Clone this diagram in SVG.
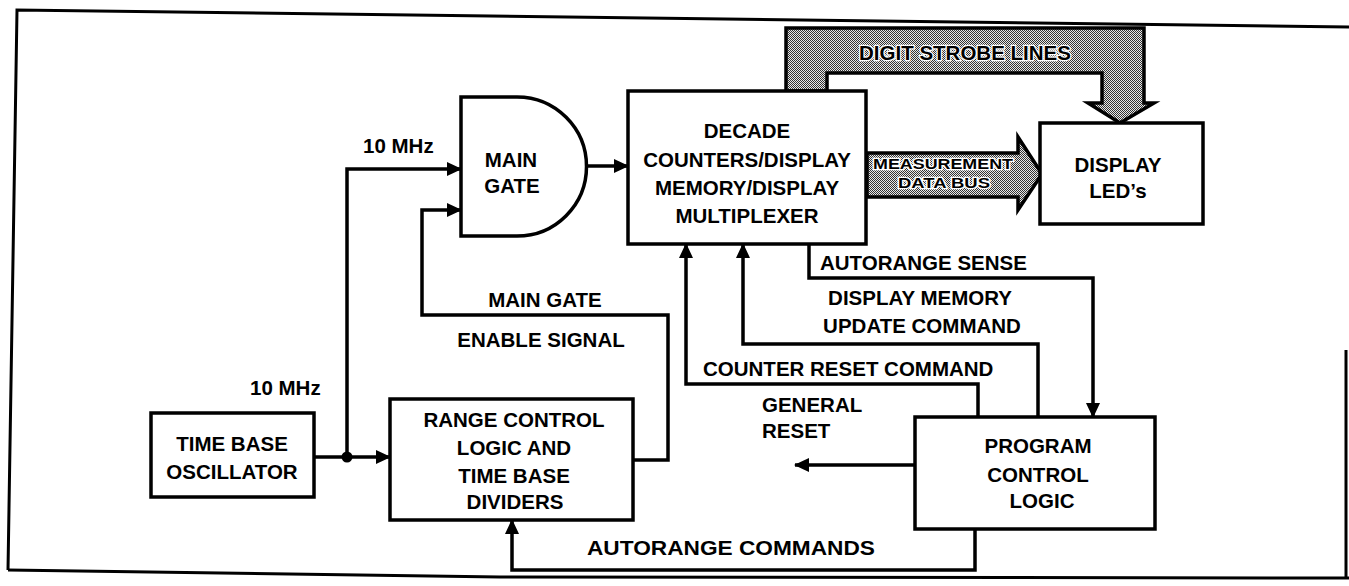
<svg xmlns="http://www.w3.org/2000/svg" width="1349" height="586" viewBox="0 0 1349 586">
<style>
  .box{fill:#fff;stroke:#000;stroke-width:3.5}
  .wire{fill:none;stroke:#000;stroke-width:3.5}
  .t{font-family:"Liberation Sans",Arial,Helvetica,sans-serif;font-weight:bold;font-size:20.5px;fill:#000}
  .m{text-anchor:middle}
  .halo{stroke:#fff;stroke-width:2.5;paint-order:stroke}
  .bus{fill:url(#stip);stroke:#000;stroke-width:3.5;stroke-linejoin:miter}
</style>
<defs>
  <pattern id="stip" width="2" height="2" patternUnits="userSpaceOnUse">
    <rect width="2" height="2" fill="#e8e8e8"/>
    <rect width="1" height="1" fill="#333"/>
    <rect x="1" y="1" width="1" height="1" fill="#333"/>
  </pattern>
  <marker id="ah" markerUnits="userSpaceOnUse" markerWidth="16" markerHeight="14" refX="14" refY="7" orient="auto">
    <path d="M0,0 L15,7 L0,14 z" fill="#000"/>
  </marker>
</defs>
<rect width="1349" height="586" fill="#fff"/>
<g id="frame" fill="none" stroke="#000" stroke-width="3">
  <polyline points="8,570 17,10 1349,27"/>
  <polyline points="8,570 500,577 1349,578"/>
  <line x1="1346" y1="350" x2="1346" y2="578"/>
</g>
<g id="connectors">
  <path class="wire" d="M314,457 L390,457" marker-end="url(#ah)"/>
  <path class="wire" d="M347,457 L347,169 L461,169" marker-end="url(#ah)"/>
  <path class="wire" d="M633,460 L668,460 L668,315 L422,315 L422,210 L461,210" marker-end="url(#ah)"/>
  <path class="wire" d="M586,166 L628,166" marker-end="url(#ah)"/>
  <path class="wire" d="M809,244 L809,278 L1093,278 L1093,417" marker-end="url(#ah)"/>
  <path class="wire" d="M1038,417 L1038,344 L743,344 L743,244" marker-end="url(#ah)"/>
  <path class="wire" d="M978,417 L978,384 L686,384 L686,244" marker-end="url(#ah)"/>
  <path class="wire" d="M915,465 L795,465" marker-end="url(#ah)"/>
  <path class="wire" d="M975,529 L975,570 L512,570 L512,520" marker-end="url(#ah)"/>
  <circle cx="347" cy="457" r="5.5" fill="#000"/>
  <polygon id="digit-strobe" class="bus" points="786,91 786,28 1144,28 1144,103 1154,103 1120,123 1088,103 1102,103 1102,73 827,73 827,91"/>
  <polygon id="data-bus" class="bus" points="867,153 1018,153 1018,137 1042,174 1018,210 1018,197 867,197"/>
  <text class="t m halo" x="965" y="60">DIGIT STROBE LINES</text>
  <text class="t m halo" x="943" y="169" style="font-size:14px" textLength="140" lengthAdjust="spacingAndGlyphs">MEASUREMENT</text>
  <text class="t m halo" x="944" y="188" style="font-size:14px" textLength="92" lengthAdjust="spacingAndGlyphs">DATA BUS</text>
  <text class="t" x="363" y="153">10 MHz</text>
  <text class="t" x="250" y="395">10 MHz</text>
  <text class="t m" x="545" y="307">MAIN GATE</text>
  <text class="t m" x="541" y="347">ENABLE SIGNAL</text>
  <text class="t" x="820" y="270">AUTORANGE SENSE</text>
  <text class="t m" x="920" y="305">DISPLAY MEMORY</text>
  <text class="t m" x="922" y="333">UPDATE COMMAND</text>
  <text class="t" x="703" y="376">COUNTER RESET COMMAND</text>
  <text class="t" x="762" y="412">GENERAL</text>
  <text class="t" x="762" y="438">RESET</text>
  <text class="t" x="587" y="555" textLength="288" lengthAdjust="spacingAndGlyphs">AUTORANGE COMMANDS</text>
</g>
<g id="time-base-oscillator">
  <rect class="box" x="151" y="413" width="163" height="84"/>
  <text class="t m" x="232" y="451">TIME BASE</text>
  <text class="t m" x="232" y="479">OSCILLATOR</text>
</g>
<g id="range-control">
  <rect class="box" x="390" y="399" width="243" height="121"/>
  <text class="t m" x="514" y="427">RANGE CONTROL</text>
  <text class="t m" x="514" y="455">LOGIC AND</text>
  <text class="t m" x="514" y="483">TIME BASE</text>
  <text class="t m" x="515" y="509">DIVIDERS</text>
</g>
<g id="main-gate">
  <path class="box" d="M461,97 L517,97 A69.5,69.5 0 0 1 517,236 L461,236 Z"/>
  <text class="t m" x="511" y="167">MAIN</text>
  <text class="t m" x="512" y="193">GATE</text>
</g>
<g id="decade-counters">
  <rect class="box" x="628" y="91" width="238" height="153"/>
  <text class="t m" x="747" y="138">DECADE</text>
  <text class="t m" x="747" y="167">COUNTERS/DISPLAY</text>
  <text class="t m" x="747" y="195">MEMORY/DISPLAY</text>
  <text class="t m" x="747" y="223">MULTIPLEXER</text>
</g>
<g id="display-leds">
  <rect class="box" x="1040" y="123" width="163" height="101"/>
  <text class="t m" x="1118" y="172">DISPLAY</text>
  <text class="t m" x="1118" y="198">LED’s</text>
</g>
<g id="program-control">
  <rect class="box" x="915" y="417" width="240" height="112"/>
  <text class="t m" x="1038" y="453">PROGRAM</text>
  <text class="t m" x="1038" y="482">CONTROL</text>
  <text class="t m" x="1042" y="508">LOGIC</text>
</g>
</svg>
